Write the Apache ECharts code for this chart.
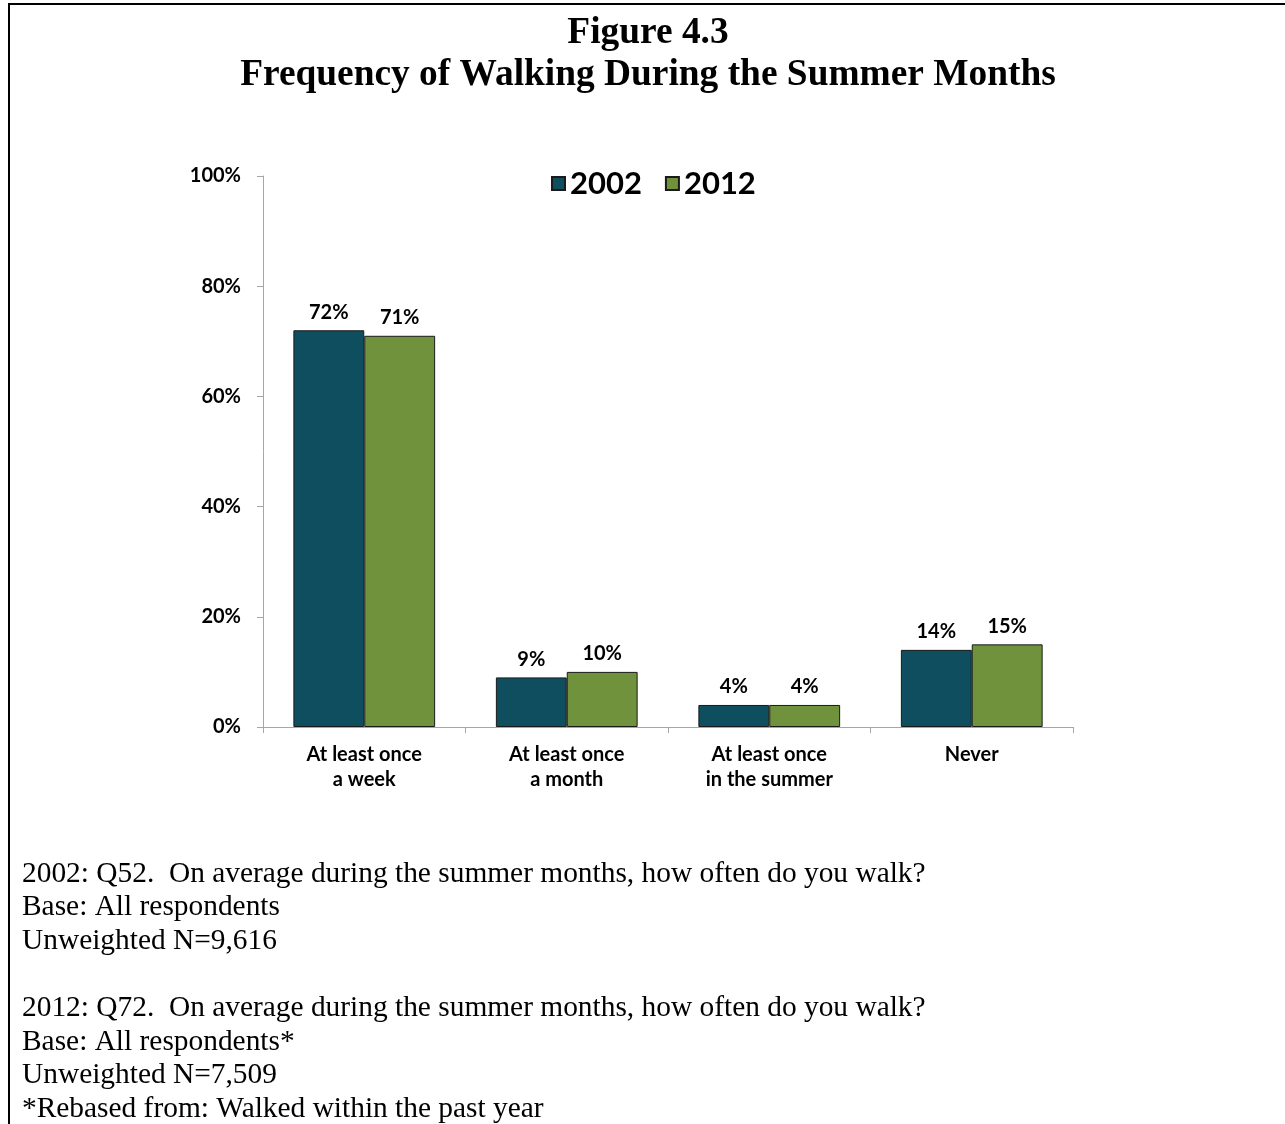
<!DOCTYPE html>
<html>
<head>
<meta charset="utf-8">
<script src="https://cdn.jsdelivr.net/npm/echarts@6/dist/echarts.min.js"></script>
<style>
  html, body { margin: 0; padding: 0; background: #fff; }
  #chart { width: 1285px; height: 1124px; }
</style>
</head>
<body>
<div id="chart"></div>
<script>
const categories = ['At least once\na week', 'At least once\na month', 'At least once\nin the summer', 'Never'];
const values2002 = [72, 9, 4, 14];
const values2012 = [71, 10, 4, 15];
const seriesNames = ['2002', '2012'];
const yTicks = [0, 20, 40, 60, 80, 100];
const titleLines = ['Figure 4.3', 'Frequency of Walking During the Summer Months'];
const footnotes = [
  '2002: Q52.  On average during the summer months, how often do you walk?',
  'Base: All respondents',
  'Unweighted N=9,616',
  '',
  '2012: Q72.  On average during the summer months, how often do you walk?',
  'Base: All respondents*',
  'Unweighted N=7,509',
  '*Rebased from: Walked within the past year'
];

const sans = 'Lato, "Noto Sans", sans-serif';
const serif = '"Liberation Serif", "DejaVu Serif", serif';
const colors = ['#0E4E5F', '#71923C'];

const chart = echarts.init(document.getElementById('chart'), null, { renderer: 'canvas' });

const labelStyle = {
  show: true,
  position: 'top',
  distance: 8,
  formatter: '{c}%',
  fontFamily: sans,
  fontWeight: 'bold',
  fontSize: 20,
  color: '#000'
};

chart.setOption({
  animation: false,
  backgroundColor: '#fff',
  title: {
    text: titleLines.join('\n'),
    left: 648,
    top: 12,
    padding: 0,
    textAlign: 'center',
    textStyle: {
      fontFamily: serif,
      fontWeight: 'bold',
      fontSize: 37.4,
      lineHeight: 42,
      color: '#000'
    }
  },
  legend: {
    data: seriesNames,
    left: 551,
    top: 168,
    padding: 0,
    itemWidth: 13,
    itemHeight: 13,
    itemGap: 23,
    icon: 'rect',
    textStyle: {
      fontFamily: sans,
      fontWeight: 'bold',
      fontSize: 31,
      lineHeight: 30,
      color: '#000'
    }
  },
  grid: {
    left: 263,
    right: 212,
    top: 176,
    bottom: 397,
    containLabel: false
  },
  xAxis: {
    type: 'category',
    data: categories,
    axisLine: { show: true, lineStyle: { color: '#A6A6A6', width: 1 } },
    axisTick: { show: true, alignWithLabel: false, length: 6, lineStyle: { color: '#A6A6A6' } },
    axisLabel: {
      interval: 0,
      margin: 15,
      fontFamily: sans,
      fontWeight: 'bold',
      fontSize: 20,
      lineHeight: 25,
      color: '#000'
    }
  },
  yAxis: {
    type: 'value',
    min: yTicks[0],
    max: yTicks[yTicks.length - 1],
    interval: 20,
    splitLine: { show: false },
    axisLine: { show: true, lineStyle: { color: '#A6A6A6', width: 1 } },
    axisTick: { show: true, length: 6, lineStyle: { color: '#A6A6A6' } },
    axisLabel: {
      formatter: '{value}%',
      margin: 22,
      fontFamily: sans,
      fontWeight: 'bold',
      fontSize: 20,
      color: '#000'
    }
  },
  series: [
    {
      name: seriesNames[0],
      type: 'bar',
      data: values2002,
      barGap: '0%',
      barCategoryGap: '30%',
      itemStyle: { color: colors[0], borderColor: '#1a1a1a', borderWidth: 1 },
      label: labelStyle
    },
    {
      name: seriesNames[1],
      type: 'bar',
      data: values2012,
      barGap: '0%',
      barCategoryGap: '30%',
      itemStyle: { color: colors[1], borderColor: '#1a1a1a', borderWidth: 1 },
      label: labelStyle
    }
  ],
  graphic: [
    {
      type: 'polyline',
      shape: { points: [[9, 1130], [9, 4], [1290, 4]] },
      style: { stroke: '#000', lineWidth: 2, fill: null },
      silent: true
    },
    {
      type: 'text',
      left: 22,
      top: 857,
      style: {
        text: footnotes.join('\n'),
        fontFamily: serif,
        fontSize: 29.4,
        lineHeight: 33.6,
        fill: '#000'
      },
      silent: true
    }
  ]
});
</script>
</body>
</html>
